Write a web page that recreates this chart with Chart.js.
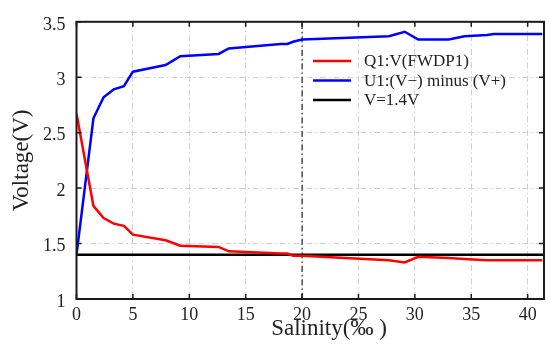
<!DOCTYPE html>
<html lang="en">
  <head>
    <meta charset="UTF-8" />
    <script src="https://cdn.jsdelivr.net/npm/chart.js"></script>
    <title>Voltage vs Salinity</title>
    <style>
      body { margin: 0; background: #fff; }
      #wrap { width: 550px; height: 353px; }
    </style>
  </head>
  <body>
    <div id="wrap"><canvas id="chart" width="550" height="353"></canvas></div>
    <script>
      const salinity = [0, 1.5, 2.4, 3.3, 4.2, 5, 7.9, 9.2, 12.6, 13.5, 18.1, 18.7, 19.2, 20, 27.7, 29.1, 30.3, 33.0, 34.4, 36.4, 37, 41.3];
      const u1Volts = [1.40, 2.63, 2.82, 2.89, 2.92, 3.05, 3.11, 3.19, 3.21, 3.26, 3.30, 3.30, 3.32, 3.34, 3.37, 3.41, 3.34, 3.34, 3.37, 3.38, 3.39, 3.39];
      const q1Volts = [2.67, 1.84, 1.73, 1.68, 1.66, 1.58, 1.53, 1.48, 1.47, 1.43, 1.41, 1.41, 1.39, 1.39, 1.35, 1.33, 1.38, 1.37, 1.36, 1.35, 1.35, 1.35];
      const refLevel = 1.4;
      const markerX = 20;
      const xTicks = [0, 5, 10, 15, 20, 25, 30, 35, 40];
      const yTicks = [1, 1.5, 2, 2.5, 3, 3.5];
      const legendLabels = ['Q1:V(FWDP1)', 'U1:(V\u2212) minus (V+)', 'V=1.4V'];
      const xTitle = 'Salinity(\u2030 )';

      const font = 'Liberation Serif';
      const xMin = 0, xMax = 41.45, yMin = 1, yMax = 3.5;

      const pts = ys => salinity.map((x, i) => ({ x: x, y: ys[i] }));

      // frame, inward ticks on all four sides, x title and the legend
      const framePlugin = {
        id: 'frame',
        afterDraw(chart) {
          const ctx = chart.ctx;
          const a = chart.chartArea;
          const xs = chart.scales.x, ys = chart.scales.y;
          ctx.save();
          ctx.strokeStyle = '#1a1a1a';
          ctx.lineWidth = 2;
          ctx.strokeRect(a.left, a.top, a.right - a.left, a.bottom - a.top);
          ctx.lineWidth = 1.5;
          ctx.beginPath();
          xTicks.forEach(v => {
            const px = xs.getPixelForValue(v);
            ctx.moveTo(px, a.bottom); ctx.lineTo(px, a.bottom - 5);
            ctx.moveTo(px, a.top); ctx.lineTo(px, a.top + 5);
          });
          yTicks.forEach(v => {
            const py = ys.getPixelForValue(v);
            ctx.moveTo(a.left, py); ctx.lineTo(a.left + 5, py);
            ctx.moveTo(a.right, py); ctx.lineTo(a.right - 5, py);
          });
          ctx.stroke();

          ctx.fillStyle = '#222';
          ctx.font = '23px "' + font + '"';
          ctx.textAlign = 'center';
          ctx.textBaseline = 'middle';
          ctx.fillText(xTitle, 329, 329);

          // legend
          const colors = ['#ff0000', '#0000ff', '#000000'];
          ctx.font = '17px "' + font + '"';
          ctx.textAlign = 'left';
          legendLabels.forEach((t, i) => {
            const y = 61 + i * 19.5;
            ctx.strokeStyle = colors[i];
            ctx.lineWidth = 2.5;
            ctx.beginPath();
            ctx.moveTo(313, y); ctx.lineTo(351, y);
            ctx.stroke();
            ctx.fillText(t, 364, y + 1);
          });
          ctx.restore();
        }
      };

      new Chart(document.getElementById('chart'), {
        type: 'scatter',
        data: {
          datasets: [
            { label: legendLabels[0], data: pts(q1Volts), showLine: true, borderColor: '#ff0000', borderWidth: 2.5, pointRadius: 0, tension: 0 },
            { label: legendLabels[1], data: pts(u1Volts), showLine: true, borderColor: '#0000ff', borderWidth: 2.5, pointRadius: 0, tension: 0 },
            { label: legendLabels[2], data: [{ x: xMin, y: refLevel }, { x: xMax, y: refLevel }], showLine: true, borderColor: '#000000', borderWidth: 2.5, pointRadius: 0 },
            { label: 'marker', data: [{ x: markerX, y: yMin }, { x: markerX, y: yMax }], showLine: true, borderColor: '#000000', borderWidth: 1, borderDash: [6, 3, 1.5, 3], pointRadius: 0 }
          ]
        },
        options: {
          responsive: false,
          animation: false,
          layout: { padding: { top: 14, right: 6, left: 0, bottom: 0 } },
          plugins: {
            legend: { display: false },
            tooltip: { enabled: false }
          },
          scales: {
            x: {
              type: 'linear',
              min: xMin, max: xMax,
              afterBuildTicks: s => { s.ticks = xTicks.map(v => ({ value: v })); },
              afterFit: s => { s.height = 54; },
              grid: { color: '#d0d0d0', lineWidth: 1, drawTicks: false },
              border: { display: false, dash: [6, 3, 1.5, 3] },
              ticks: { color: '#222', font: { family: font, size: 18 }, padding: 5, maxRotation: 0 },
              title: { display: false }
            },
            y: {
              type: 'linear',
              min: yMin, max: yMax,
              afterBuildTicks: s => { s.ticks = yTicks.map(v => ({ value: v })); },
              afterFit: s => { s.width = 76.5; },
              grid: { color: '#d0d0d0', lineWidth: 1, drawTicks: false },
              border: { display: false, dash: [6, 3, 1.5, 3] },
              ticks: { color: '#222', font: { family: font, size: 18 }, padding: 11, labelOffset: 3, callback: v => String(v) },
              title: { display: true, text: 'Voltage(V)', color: '#222', font: { family: font, size: 23 }, padding: { top: 8, bottom: 0 } }
            }
          }
        },
        plugins: [framePlugin]
      });
    </script>
  </body>
</html>
